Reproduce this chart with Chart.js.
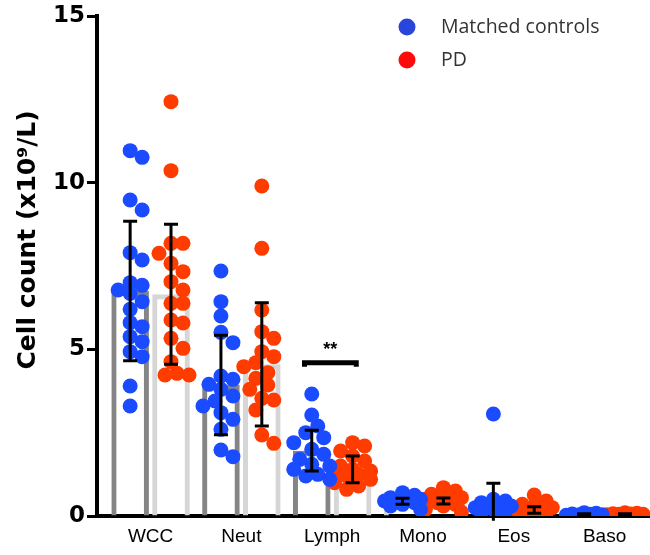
<!DOCTYPE html>
<html>
<head>
<meta charset="utf-8">
<script src="https://cdn.jsdelivr.net/npm/chart.js@4.4.1/dist/chart.umd.min.js"></script>
<style>
  html, body { margin: 0; padding: 0; background: #fff; }
  #wrap { width: 650px; height: 555px; position: relative; }
</style>
</head>
<body>
<div id="wrap"><canvas id="cellChart"></canvas></div>
<script>
/* Blood cell counts, matched controls vs PD */

const categories = ['WCC', 'Neut', 'Lymph', 'Mono', 'Eos', 'Baso'];
const yTicks = [0, 5, 10, 15];

const ctrlMean = [6.75, 3.93, 1.96, 0.44, 0.42, 0.05];
const ctrlSD = [2.09, 1.49, 0.61, 0.09, 0.56, 0.02];
const pdMean = [6.65, 4.55, 1.4, 0.45, 0.18, 0.05];
const pdSD = [2.1, 1.85, 0.4, 0.09, 0.1, 0.02];

const ctrlWCC = [10.96, 10.76, 9.48, 9.18, 7.9, 7.68, 7.0, 6.92, 6.78, 6.68, 6.43, 6.2, 5.8, 5.68, 5.38, 5.23, 4.93, 4.78, 3.9, 3.3];
const ctrlNeut = [7.35, 6.43, 6.0, 5.51, 5.2, 4.2, 4.1, 3.95, 3.8, 3.6, 3.45, 3.3, 3.1, 2.9, 2.6, 1.98, 1.78];
const ctrlLymph = [3.66, 3.03, 2.7, 2.5, 2.35, 2.2, 2.0, 1.85, 1.7, 1.55, 1.5, 1.4, 1.25, 1.2, 1.1];
const ctrlMono = [0.7, 0.62, 0.55, 0.5, 0.5, 0.45, 0.45, 0.4, 0.35, 0.3, 0.2];
const ctrlEos = [3.06, 0.5, 0.45, 0.4, 0.35, 0.3, 0.3, 0.25, 0.2, 0.15, 0.1, 0.05];
const ctrlBaso = [0.1, 0.08, 0.06, 0.05, 0.04, 0.03, 0.02, 0.0];

const pdWCC = [12.43, 10.36, 8.18, 8.18, 7.88, 7.58, 7.33, 7.03, 6.78, 6.38, 6.38, 5.88, 5.79, 5.33, 5.03, 4.63, 4.28, 4.23, 4.23];
const pdNeut = [9.9, 8.03, 6.18, 5.53, 5.33, 4.93, 4.78, 4.6, 4.48, 4.3, 4.13, 3.93, 3.8, 3.53, 3.48, 3.18, 2.43, 2.18];
const pdLymph = [2.2, 2.1, 1.95, 1.8, 1.65, 1.5, 1.4, 1.35, 1.3, 1.25, 1.2, 1.1, 1.0, 0.9, 0.8];
const pdMono = [0.85, 0.75, 0.65, 0.6, 0.55, 0.5, 0.45, 0.4, 0.35, 0.3, 0.2, 0.12];
const pdEos = [0.63, 0.45, 0.35, 0.3, 0.25, 0.2, 0.15, 0.1, 0.1, 0.05, 0.05];
const pdBaso = [0.1, 0.08, 0.07, 0.06, 0.05, 0.05, 0.04, 0.03, 0.02, 0.01, 0.0];

const ctrlPoints = [ctrlWCC, ctrlNeut, ctrlLymph, ctrlMono, ctrlEos, ctrlBaso];
const pdPoints = [pdWCC, pdNeut, pdLymph, pdMono, pdEos, pdBaso];

// Lymph ** bracket height (x10^9/L)
const sigIndex = 2;
const sigLevel = 4.6;

const BLUE = '#1a4bff';
const RED = '#ff3c00';
const DARK_BAR = '#858585';
const LIGHT_BAR = '#d6d6d6';
const FONT = 'Arial, "Liberation Sans", Helvetica, sans-serif';
const BOLD_FONT = '"DejaVu Sans", Arial, sans-serif';

const GROUP_SHIFT = 0.225;
const PX_X = 90.8;   // approx px per category
const PX_Y = 33.3;   // approx px per unit

// simple beeswarm so dots spread sideways like the column scatter
function swarm(values, centre) {
  const placed = [];
  const step = 6, minDist = 12, maxK = 3;
  const sorted = values.slice().sort((a, b) => b - a);
  sorted.forEach(v => {
    const py = v * PX_Y;
    let best = 0, bestScore = -1;
    for (let k = 0; k <= 2 * maxK; k++) {
      const off = (k % 2 === 1 ? 1 : -1) * Math.ceil(k / 2) * step;
      let d = Infinity;
      placed.forEach(p => { d = Math.min(d, Math.hypot(p.px - off, p.py - py)); });
      if (d >= minDist) { best = off; bestScore = Infinity; break; }
      if (d > bestScore) { bestScore = d; best = off; }
    }
    placed.push({ px: best, py });
  });
  return placed.map(p => ({ x: centre + p.px / PX_X, y: p.py / PX_Y }));
}

function scatterData(groups, shift) {
  return groups.flatMap((vals, i) => swarm(vals, i + shift));
}

const ctrlBarBorder = [DARK_BAR, DARK_BAR, DARK_BAR, LIGHT_BAR, LIGHT_BAR, DARK_BAR];
const pdBarBorder = [LIGHT_BAR, LIGHT_BAR, LIGHT_BAR, '#222', LIGHT_BAR, LIGHT_BAR];

const errorBars = {
  id: 'errorBars',
  afterDatasetsDraw(chart) {
    const { ctx, scales: { x, y } } = chart;
    ctx.save();
    ctx.strokeStyle = '#000';
    ctx.lineWidth = 3;
    ctx.lineCap = 'butt';
    [[ctrlMean, ctrlSD, -GROUP_SHIFT], [pdMean, pdSD, GROUP_SHIFT]].forEach(([m, s, sh]) => {
      m.forEach((mean, i) => {
        const px = x.getPixelForValue(i + sh);
        const top = y.getPixelForValue(mean + s[i]);
        const bot = Math.min(y.getPixelForValue(mean - s[i]), y.bottom + 6);
        ctx.beginPath();
        ctx.moveTo(px, top); ctx.lineTo(px, bot);
        ctx.moveTo(px - 7, top); ctx.lineTo(px + 7, top);
        if (mean - s[i] >= 0) { ctx.moveTo(px - 7, bot); ctx.lineTo(px + 7, bot); }
        ctx.stroke();
      });
    });
    // significance bracket
    const x1 = x.getPixelForValue(sigIndex - GROUP_SHIFT - 0.08);
    const x2 = x.getPixelForValue(sigIndex + GROUP_SHIFT + 0.04);
    const sy = y.getPixelForValue(sigLevel);
    ctx.lineWidth = 5;
    ctx.beginPath();
    ctx.moveTo(x1, sy + 4); ctx.lineTo(x1, sy); ctx.lineTo(x2, sy); ctx.lineTo(x2, sy + 4);
    ctx.stroke();
    ctx.fillStyle = '#000';
    ctx.font = 'bold 18px ' + FONT;
    ctx.textAlign = 'center';
    ctx.textBaseline = 'middle';
    ctx.fillText('**', (x1 + x2) / 2, sy - 13);
    ctx.restore();
  },
};

const cornerLegend = {
  id: 'cornerLegend',
  afterDraw(chart) {
    const { ctx } = chart;
    ctx.save();
    ctx.font = '19.5px "Open Sans", sans-serif';
    ctx.textBaseline = 'middle';
    ctx.textAlign = 'left';
    [['Matched controls', '#2a45dc', 27], ['PD', '#ff0a0a', 60]].forEach(([label, col, yy]) => {
      ctx.fillStyle = col;
      ctx.beginPath();
      ctx.arc(407, yy, 8.5, 0, Math.PI * 2);
      ctx.fill();
      ctx.fillStyle = '#333';
      ctx.fillText(label, 441, yy);
    });
    ctx.restore();
  },
};

new Chart(document.getElementById('cellChart'), {
  data: {
    datasets: [
      {
        type: 'scatter', label: 'Matched controls', order: 1,
        data: scatterData(ctrlPoints, -GROUP_SHIFT),
        backgroundColor: BLUE, borderWidth: 0, pointRadius: 7.5,
      },
      {
        type: 'scatter', label: 'PD', order: 1,
        data: scatterData(pdPoints, GROUP_SHIFT),
        backgroundColor: RED, borderWidth: 0, pointRadius: 7.5,
      },
      {
        type: 'bar', label: 'Controls mean', order: 2,
        data: ctrlMean.map((v, i) => ({ x: i, y: v })),
        backgroundColor: 'rgba(255,255,255,0)',
        borderColor: ctrlBarBorder, borderWidth: 5, borderSkipped: 'bottom',
        barPercentage: 0.92, categoryPercentage: 0.9,
      },
      {
        type: 'bar', label: 'PD mean', order: 2,
        data: pdMean.map((v, i) => ({ x: i, y: v })),
        backgroundColor: 'rgba(255,255,255,0)',
        borderColor: pdBarBorder, borderWidth: 5, borderSkipped: 'bottom',
        barPercentage: 0.92, categoryPercentage: 0.9,
      },
    ],
  },
  options: {
    responsive: true,
    maintainAspectRatio: false,
    animation: false,
    layout: { autoPadding: false, padding: { top: 16, right: 0, bottom: 0, left: 0 } },
    plugins: { legend: { display: false }, tooltip: { enabled: false } },
    scales: {
      x: {
        type: 'linear',
        offset: false,
        min: -0.59,
        max: 5.5,
        afterBuildTicks: axis => { axis.ticks = categories.map((c, i) => ({ value: i })); },
        afterFit: axis => { axis.height = 39; axis.paddingRight = 0; axis.paddingLeft = 0; },
        ticks: {
          callback: v => categories[v] ?? '',
          color: '#000',
          font: { family: FONT, size: 19 },
          padding: 9,
          maxRotation: 0,
        },
        grid: { drawOnChartArea: false, drawTicks: false },
        border: { color: '#000', width: 4 },
      },
      y: {
        min: 0,
        max: 15,
        afterBuildTicks: axis => { axis.ticks = yTicks.map(v => ({ value: v })); },
        afterFit: axis => { axis.width = 97; },
        ticks: {
          color: '#000',
          font: { family: BOLD_FONT, size: 23, weight: 'bold' },
          padding: 2,
        },
        grid: { drawOnChartArea: false, drawTicks: true, tickLength: 10, tickWidth: 3, tickColor: '#000' },
        border: { color: '#000', width: 4 },
        title: {
          display: true,
          // leading spaces nudge the label upward, as in the original figure
          text: '      Cell count (x10⁹/L)',
          color: '#000',
          font: { family: BOLD_FONT, size: 25, weight: 'bold' },
          padding: { top: 13, bottom: 0 },
        },
      },
    },
  },
  plugins: [errorBars, cornerLegend],
});
</script>
</body>
</html>
